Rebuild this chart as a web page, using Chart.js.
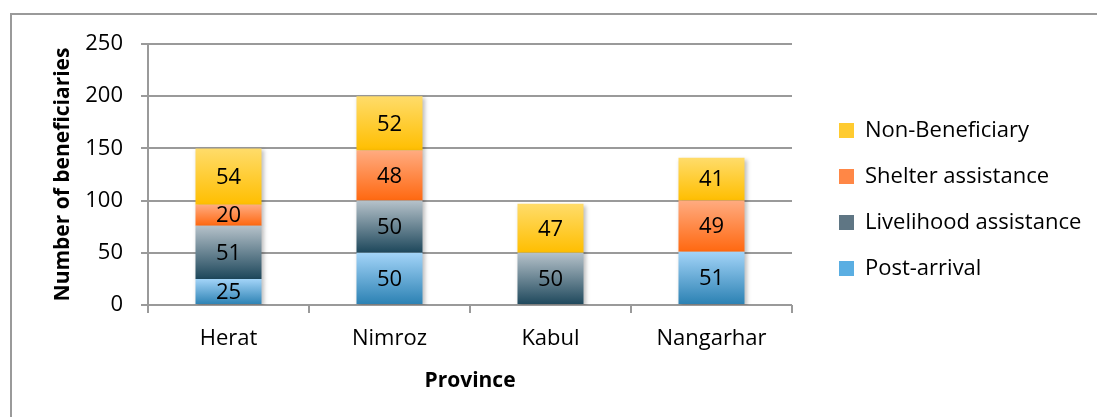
<!DOCTYPE html>
<html lang="en">

<head>
    <meta charset="UTF-8">
    <title>Beneficiaries by province</title>
    <style>
        body { margin: 0; background: #fff; }
        canvas { display: block; }
    </style>
</head>

<body>
    <canvas id="grafico" width="1097" height="417"></canvas>

    <script src="https://cdn.jsdelivr.net/npm/chart.js"></script>
    <script>
        const provincias = ['Herat', 'Nimroz', 'Kabul', 'Nangarhar']
        const postArrival = [25, 50, 0, 51]
        const livelihood = [51, 50, 50, 0]
        const shelter = [20, 48, 0, 49]
        const nonBeneficiary = [54, 52, 47, 41]
        const ticksY = [0, 50, 100, 150, 200, 250]

        const fonte = "'Open Sans', sans-serif"

        // cor de cima e de baixo de cada serie
        const cores = [
            ['#a3d4f8', '#2a80b2'],
            ['#b6c2ca', '#1d475b'],
            ['#ffab80', '#ff6810'],
            ['#ffdc6a', '#ffbe00']
        ]
        const coresLegenda = ['#5aaee2', '#5f7684', '#ff8746', '#ffcb30']

        const gradiente = (c) => {
            const chart = c.chart
            const par = cores[c.datasetIndex]
            if (!chart.chartArea || c.dataIndex === undefined || c.raw === undefined) return coresLegenda[c.datasetIndex]
            const y = chart.scales.y
            let abaixo = 0
            for (let d = 0; d < c.datasetIndex; d++) abaixo += chart.data.datasets[d].data[c.dataIndex]
            const topo = y.getPixelForValue(abaixo + c.raw)
            const base = y.getPixelForValue(abaixo)
            if (!(base > topo)) return par[0]
            const g = chart.ctx.createLinearGradient(0, topo, 0, base)
            g.addColorStop(0, par[0])
            g.addColorStop(1, par[1])
            return g
        }

        const moldura = {
            id: 'moldura',
            beforeDraw(chart) {
                const ctx = chart.ctx
                ctx.save()
                ctx.strokeStyle = '#9a9a9a'
                ctx.lineWidth = 2
                ctx.strokeRect(11, 14, 1200, 600)
                ctx.restore()
            },
            afterLayout(chart) {
                // ajusta a posicao da legenda
                chart.legend.left += 23
                chart.legend.right = chart.width
                chart.legend.width = chart.legend.right - chart.legend.left
                chart.legend.top -= 31
                chart.legend.bottom -= 31
            }
        }

        const rotulos = {
            id: 'rotulos',
            beforeDatasetsDraw(chart) {
                const ctx = chart.ctx
                ctx.save()
                ctx.shadowColor = 'rgba(0,0,0,0.25)'
                ctx.shadowBlur = 4
                ctx.shadowOffsetX = 2
                ctx.shadowOffsetY = 2
            },
            afterDatasetsDraw(chart) {
                const ctx = chart.ctx
                ctx.restore()
                ctx.save()
                ctx.font = '22px ' + fonte
                ctx.fillStyle = '#000'
                ctx.textAlign = 'center'
                ctx.textBaseline = 'middle'
                chart.data.datasets.forEach((ds, d) => {
                    chart.getDatasetMeta(d).data.forEach((el, i) => {
                        if (!ds.data[i]) return
                        ctx.fillText(ds.data[i], el.x, (el.y + el.base) / 2 + 1)
                    })
                })
                ctx.restore()
            }
        }

        const serie = (label, data) => ({
            label: label,
            data: data,
            backgroundColor: gradiente,
            borderWidth: 0,
            barPercentage: 0.41,
            categoryPercentage: 1
        })

        new Chart(document.getElementById('grafico'), {
            type: 'bar',
            data: {
                labels: provincias,
                datasets: [
                    serie('Post-arrival', postArrival),
                    serie('Livelihood assistance', livelihood),
                    serie('Shelter assistance', shelter),
                    serie('Non-Beneficiary', nonBeneficiary)
                ]
            },
            options: {
                responsive: false,
                animation: false,
                layout: { padding: { top: 44, right: 41, bottom: 0, left: 0 } },
                plugins: {
                    tooltip: { enabled: false },
                    legend: {
                        position: 'right',
                        reverse: true,
                        labels: {
                            boxWidth: 15,
                            boxHeight: 15,
                            padding: 24,
                            color: '#000',
                            font: { family: fonte, size: 22 },
                            generateLabels(chart) {
                                const itens = Chart.defaults.plugins.legend.labels.generateLabels(chart)
                                itens.forEach(it => { it.fillStyle = coresLegenda[it.datasetIndex] })
                                return itens
                            }
                        }
                    }
                },
                scales: {
                    x: {
                        stacked: true,
                        grid: {
                            offset: true,
                            drawOnChartArea: false,
                            tickLength: 8,
                            color: '#9a9a9a',
                            lineWidth: 2
                        },
                        border: { display: false },
                        ticks: { color: '#000', padding: 13, font: { family: fonte, size: 22 } },
                        title: {
                            display: true,
                            text: 'Province',
                            color: '#000',
                            padding: { top: 23, bottom: 23 },
                            font: { family: fonte, size: 21, weight: 'bold' }
                        },
                        afterFit(scale) { scale.height = 112 }
                    },
                    y: {
                        stacked: true,
                        min: 0,
                        max: 250,
                        afterBuildTicks(scale) { scale.ticks = ticksY.map(v => ({ value: v })) },
                        grid: { color: '#9a9a9a', lineWidth: 2, tickLength: 7 },
                        border: { color: '#9a9a9a', width: 2 },
                        ticks: { color: '#000', padding: 18, font: { family: fonte, size: 22 } },
                        title: {
                            display: true,
                            text: 'Number of beneficiaries',
                            color: '#000',
                            padding: { top: 50, bottom: 50 },
                            font: { family: fonte, size: 21, weight: 'bold' }
                        },
                        afterFit(scale) { scale.width = 148 }
                    }
                }
            },
            plugins: [moldura, rotulos]
        })
    </script>
</body>

</html>
